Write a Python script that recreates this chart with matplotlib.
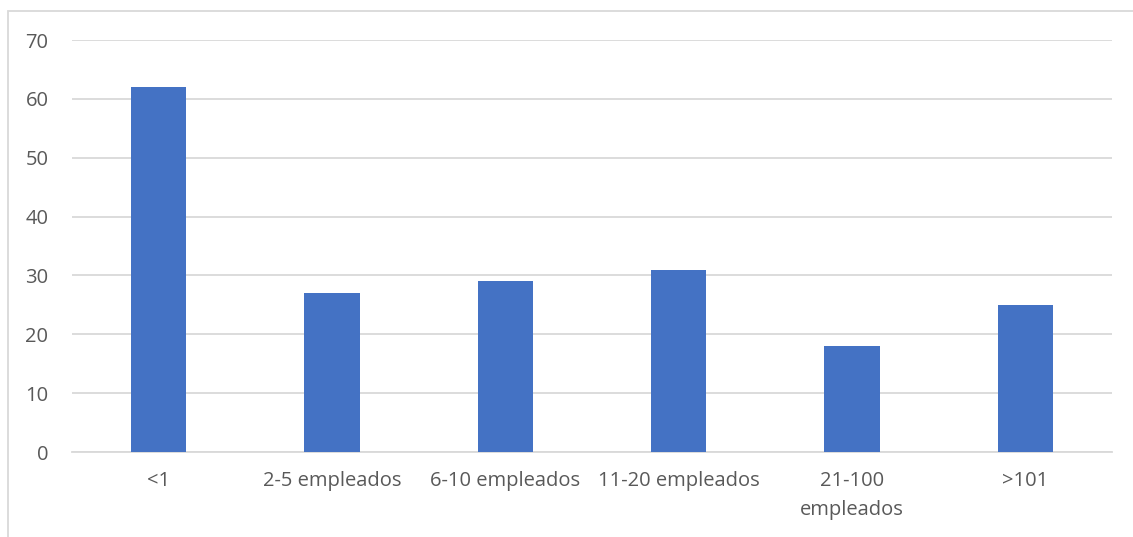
import matplotlib.pyplot as plt
import matplotlib.patches as mpatches

categories = ['<1', '2-5 empleados', '6-10 empleados', '11-20 empleados',
              '21-100\nempleados', '>101']
values = [62, 27, 29, 31, 18, 25]
y_ticks = [0, 10, 20, 30, 40, 50, 60, 70]

bar_color = '#4472C4'
grid_color = '#D9D9D9'
text_color = '#595959'

plt.rcParams['font.family'] = ['Open Sans', 'DejaVu Sans']

fig = plt.figure(figsize=(11.33, 5.37), dpi=100)
ax = fig.add_axes([72 / 1133, 1 - 452 / 537, 1040 / 1133, 412 / 537])

x = range(len(categories))
ax.bar(x, values, width=0.32, color=bar_color, zorder=3)

ax.set_xlim(-0.5, len(categories) - 0.5)
ax.set_ylim(0, 70)
ax.set_yticks(y_ticks)
ax.set_xticks(list(x))
ax.set_xticklabels(categories, linespacing=1.6)

ax.yaxis.grid(True, color=grid_color, linewidth=1.3, zorder=0)
for s in ['top', 'right', 'left']:
    ax.spines[s].set_visible(False)
ax.spines['bottom'].set_color(grid_color)
ax.spines['bottom'].set_linewidth(1.3)
ax.tick_params(axis='both', length=0, labelsize=14.5, labelcolor=text_color)
ax.tick_params(axis='y', pad=17)
ax.tick_params(axis='x', pad=14)

# chart area outline
fig.patches.append(mpatches.Rectangle((8 / 1133, -0.1), 1.2, 1 - 11 / 537 + 0.1,
                                      transform=fig.transFigure, fill=False,
                                      edgecolor=grid_color, linewidth=1.3))

fig.savefig('out.png', dpi=100)
